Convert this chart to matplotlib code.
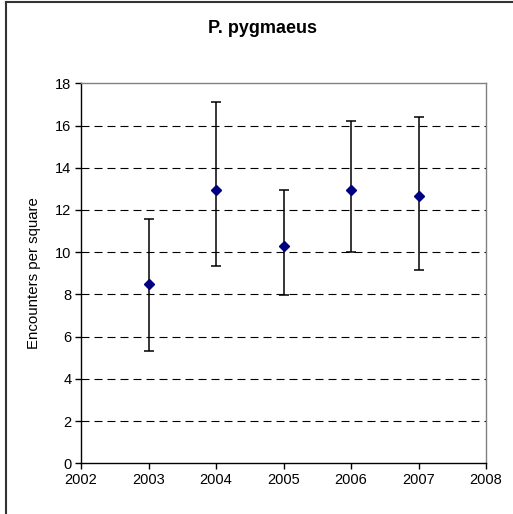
import matplotlib
matplotlib.use("Agg")
import matplotlib.pyplot as plt
from matplotlib.lines import Line2D

# Дані
years = [2003, 2004, 2005, 2006, 2007]
means = [8.48, 12.95, 10.31, 12.95, 12.68]
upper = [11.57, 17.10, 12.96, 16.23, 16.42]
lower = [5.34, 9.35, 7.97, 9.99, 9.14]

x_ticks = [2002, 2003, 2004, 2005, 2006, 2007, 2008]
y_ticks = [0, 2, 4, 6, 8, 10, 12, 14, 16, 18]

plt.rcParams["font.family"] = ["Liberation Sans", "DejaVu Sans"]

fig = plt.figure(figsize=(5.13, 5.14), dpi=100)
ax = fig.add_axes([81 / 513, 1 - 463.3 / 514, 405 / 513, 380 / 514])

err_lo = [m - lo for m, lo in zip(means, lower)]
err_hi = [hi - m for m, hi in zip(means, upper)]

ax.errorbar(years, means, yerr=[err_lo, err_hi], fmt="none",
            ecolor="black", elinewidth=1.1, capsize=3.6, capthick=1.1, zorder=3)
ax.plot(years, means, "D", color="#000080", markersize=5, zorder=4)

ax.set_xlim(2002, 2008)
ax.set_ylim(0, 18)
ax.set_xticks(x_ticks)
ax.set_yticks(y_ticks)
ax.tick_params(direction="out", length=4, width=1, labelsize=10.5, pad=3)

# Пунктирна сітка
for y in y_ticks[1:-1]:
    ax.axhline(y, color="black", lw=0.8, dashes=(7.2, 4.5), zorder=1)

for side in ("left", "bottom"):
    ax.spines[side].set_color("black")
    ax.spines[side].set_linewidth(1.0)
for side in ("top", "right"):
    ax.spines[side].set_color("#808080")
    ax.spines[side].set_linewidth(1.0)

ax.set_ylabel("Encounters per square", fontsize=10.8)
ax.yaxis.set_label_coords(-(81 - 41) / 405, 0.5)

fig.text(263 / 513, 1 - 33 / 514, "P. pygmaeus", ha="center", va="baseline",
         fontsize=13, fontweight="bold")

# Рамка області діаграми (видно лише ліворуч і зверху)
fig.add_artist(Line2D([6 / 513, 6 / 513], [0, 1 - 2 / 514], color="#333333", lw=1.5))
fig.add_artist(Line2D([6 / 513, 1], [1 - 2 / 514, 1 - 2 / 514], color="#333333", lw=1.5))

fig.savefig("out.png", dpi=100)
